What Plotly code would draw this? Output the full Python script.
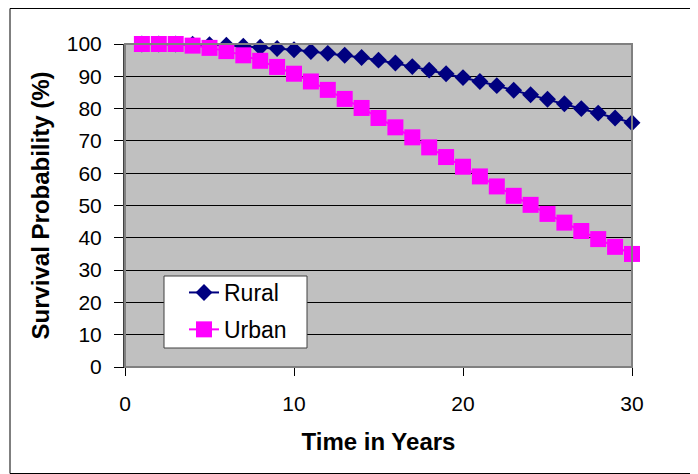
import plotly.graph_objects as go

years = list(range(1, 31))
rural = [100, 100, 100, 99.9, 99.8, 99.6, 99.3, 99.0, 98.6, 98.2,
         97.7, 97.1, 96.5, 95.8, 95.0, 94.1, 93.0, 91.9, 90.8, 89.6,
         88.4, 87.1, 85.7, 84.3, 82.9, 81.5, 80.0, 78.6, 77.1, 75.6]
urban = [100, 100, 100, 99.5, 98.8, 97.8, 96.5, 94.8, 92.9, 90.8,
         88.4, 85.8, 83.0, 80.2, 77.1, 74.2, 71.1, 68.0, 65.0, 62.0,
         59.0, 55.9, 53.0, 50.2, 47.4, 44.7, 42.1, 39.6, 37.2, 35.0]
x_ticks = [0, 10, 20, 30]
y_ticks = [0, 10, 20, 30, 40, 50, 60, 70, 80, 90, 100]

FONT = "Liberation Sans, Arial, sans-serif"

# figure is placed 8px in from the page edges (browser body margin)
OFF = 8
W, H = 698 - OFF, 474 - OFF
L, R, T, B = 117, 66, 36, 107
PW, PH = W - L - R, H - T - B


def px(page_x):
    return (page_x - OFF - L) / PW


def py(page_y):
    return (T + PH - (page_y - OFF)) / PH


fig = go.Figure()
fig.add_trace(go.Scatter(
    x=years, y=rural, name="Rural", mode="lines+markers", legendgroup="r",
    line=dict(color="#000080", width=2),
    marker=dict(symbol="diamond", size=13, color="#000080"),
    cliponaxis=False,
))
fig.add_trace(go.Scatter(
    x=years, y=urban, name="Urban", mode="lines+markers", legendgroup="u",
    line=dict(color="#FF00FF", width=2),
    marker=dict(symbol="square", size=16, color="#FF00FF"),
    cliponaxis=False,
))

fig.update_layout(
    width=W, height=H,
    margin=dict(l=L, r=R, t=T, b=B),
    paper_bgcolor="white",
    plot_bgcolor="#C0C0C0",
    font=dict(family=FONT, size=21, color="black"),
    showlegend=True,
    legend=dict(
        x=px(184), y=py(271), xanchor="left", yanchor="top",
        bgcolor="rgba(0,0,0,0)", borderwidth=0,
        font=dict(family=FONT, size=23),
        tracegroupgap=4,
    ),
    xaxis=dict(
        range=[0, 30], tickvals=x_ticks, showgrid=False, zeroline=False,
        ticks="outside", ticklen=8, tickcolor="black",
        showline=True, linecolor="black", linewidth=1,
        tickfont=dict(size=21), ticklabelstandoff=10,
        title=dict(text="<b>Time in Years</b>", font=dict(size=24), standoff=18),
    ),
    yaxis=dict(
        range=[0, 100], tickvals=y_ticks, showgrid=True, gridcolor="black", gridwidth=1,
        zeroline=False,
        ticks="outside", ticklen=9, tickcolor="black",
        showline=True, linecolor="#404040", linewidth=2,
        tickfont=dict(size=21), ticklabelstandoff=8,
        title=dict(text="<b>Survival Probability (%)</b>", font=dict(size=24), standoff=10),
    ),
    shapes=[
        # plot-area outline
        dict(type="rect", xref="paper", yref="paper", x0=0, y0=0, x1=1, y1=1,
             line=dict(color="#808080", width=2), layer="above"),
        # legend box
        dict(type="rect", xref="paper", yref="paper",
             x0=px(164), x1=px(307), y0=py(348), y1=py(276),
             fillcolor="white", line=dict(color="#404040", width=1), layer="above"),
        # outer chart border
        dict(type="rect", xref="paper", yref="paper",
             x0=px(10), x1=px(692), y0=py(473.5), y1=py(8.5),
             line=dict(color="black", width=1)),
    ],
)

fig.write_html("out.html")
